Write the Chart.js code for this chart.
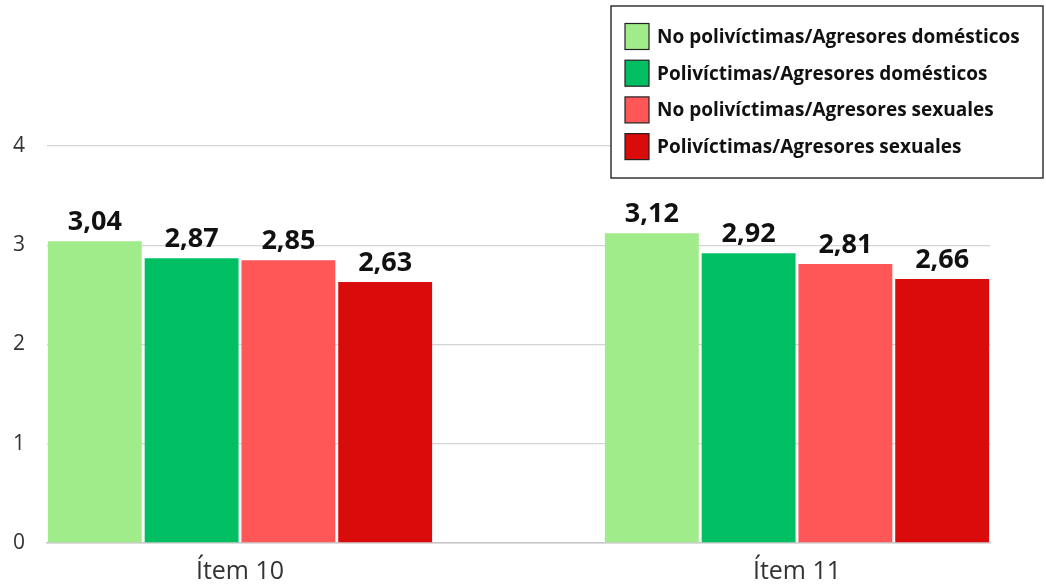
<!DOCTYPE html>
<html>
<head>
<meta charset="utf-8">
<script src="https://cdn.jsdelivr.net/npm/chart.js@4/dist/chart.umd.min.js"></script>
<style>
html,body{margin:0;padding:0;background:#fff;}
#wrap{width:1046px;height:587px;position:relative;}
</style>
</head>
<body>
<div id="wrap"><canvas id="c" width="1046" height="587"></canvas></div>
<script>
const categories = ["Ítem 10", "Ítem 11"];
const seriesNames = [
  "No polivíctimas/Agresores domésticos",
  "Polivíctimas/Agresores domésticos",
  "No polivíctimas/Agresores sexuales",
  "Polivíctimas/Agresores sexuales"
];
const noPoliDomesticos = [3.04, 3.12];
const poliDomesticos = [2.87, 2.92];
const noPoliSexuales = [2.85, 2.81];
const poliSexuales = [2.63, 2.66];
const yTicks = [0, 1, 2, 3, 4];

const colors = ["#A0EB8A", "#00BF63", "#FF5757", "#D90B0B"];
const seriesValues = [noPoliDomesticos, poliDomesticos, noPoliSexuales, poliSexuales];

const FONT = "'Open Sans', 'Noto Sans', sans-serif";

const valueLabels = {
  id: 'valueLabels',
  afterDatasetsDraw(chart) {
    const ctx = chart.ctx;
    ctx.save();
    ctx.font = "bold 27px " + FONT;
    ctx.fillStyle = "#111";
    ctx.textAlign = "center";
    ctx.textBaseline = "alphabetic";
    chart.data.datasets.forEach((ds, di) => {
      const meta = chart.getDatasetMeta(di);
      meta.data.forEach((el, i) => {
        const v = ds.data[i].y;
        ctx.fillText(v.toFixed(2).replace('.', ','), el.x, el.y - 11);
      });
    });
    ctx.restore();
  }
};

const boxLegend = {
  id: 'boxLegend',
  afterDraw(chart) {
    const ctx = chart.ctx;
    ctx.save();
    const bx = 611, by = 6, bw = 432, bh = 172;
    ctx.fillStyle = "#fff";
    ctx.fillRect(bx, by, bw, bh);
    ctx.strokeStyle = "#333";
    ctx.lineWidth = 1.5;
    ctx.strokeRect(bx, by, bw, bh);
    ctx.font = "bold 19px " + FONT;
    ctx.textAlign = "left";
    ctx.textBaseline = "middle";
    chart.data.datasets.forEach((ds, i) => {
      const cy = 36.5 + i * 36.7;
      ctx.fillStyle = ds.backgroundColor;
      ctx.fillRect(625, cy - 13, 24, 26);
      ctx.strokeStyle = "#222";
      ctx.lineWidth = 1.2;
      ctx.strokeRect(625, cy - 13, 24, 26);
      ctx.fillStyle = "#111";
      ctx.fillText(ds.label, 657, cy + 1);
    });
    ctx.restore();
  }
};

new Chart(document.getElementById('c'), {
  type: 'bar',
  data: {
    datasets: seriesNames.map((name, k) => ({
      label: name,
      data: seriesValues[k].map((v, i) => ({ x: i, y: v })),
      backgroundColor: colors[k],
      borderWidth: 0,
      categoryPercentage: 0.695,
      barPercentage: 0.97
    }))
  },
  options: {
    responsive: false,
    animation: false,
    events: [],
    layout: { padding: { top: 146, right: 56, left: 0, bottom: 0 } },
    plugins: { legend: { display: false }, tooltip: { enabled: false } },
    scales: {
      x: {
        type: 'linear',
        offset: false,
        min: -0.3465,
        max: 1.3465,
        afterBuildTicks(axis) { axis.ticks = categories.map((c, i) => ({ value: i })); },
        afterFit(axis) { axis.height = 44; },
        ticks: {
          callback: (v) => categories[v],
          font: { family: FONT, size: 25 },
          color: "#333",
          padding: 14,
          autoSkip: false,
          maxRotation: 0
        },
        grid: { display: false, drawTicks: false, offset: false },
        border: { display: true, color: "#c8c8c8", width: 1.5 }
      },
      y: {
        min: 0,
        max: 4,
        afterBuildTicks(axis) { axis.ticks = yTicks.map(v => ({ value: v })); },
        afterFit(axis) { axis.width = 47; },
        ticks: {
          font: { family: FONT, size: 21 },
          color: "#333",
          padding: 22
        },
        grid: { color: "#d4d4d4", lineWidth: 1.3, drawTicks: false },
        border: { display: false }
      }
    }
  },
  plugins: [valueLabels, boxLegend]
});
</script>
</body>
</html>
